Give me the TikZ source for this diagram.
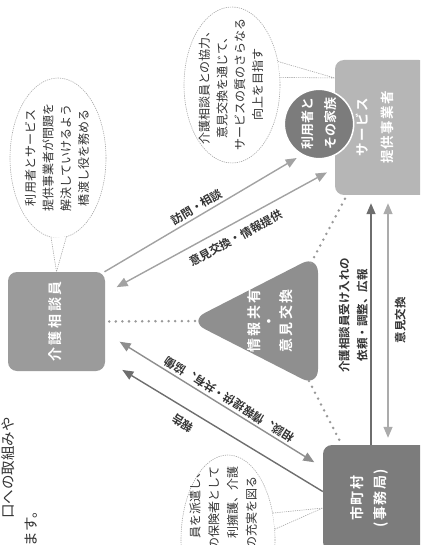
\documentclass[tikz,border=0pt]{standalone}
\usepackage{fontspec}
\setmainfont{Noto Sans CJK JP}[BoldFont={Noto Sans CJK JP Bold}]
\usepackage{graphicx}
\usetikzlibrary{arrows.meta,shapes.geometric}
\definecolor{boxgray}{HTML}{9B9B9B}
\definecolor{trigray}{HTML}{8F8F8F}
\definecolor{lightbox}{HTML}{B6B6B6}
\definecolor{darkbox}{HTML}{7C7C7C}
\definecolor{linegray}{HTML}{A2A2A2}
\definecolor{midline}{HTML}{8E8E8E}
\definecolor{darkline}{HTML}{6E6E6E}
\definecolor{lightline}{HTML}{ABABAB}
\definecolor{dotgray}{HTML}{999999}
\definecolor{bubgray}{HTML}{A8A8A8}
\definecolor{txtgray}{HTML}{333333}
\newcommand{\vtxt}[1]{\rotatebox{90}{\begin{tabular}{@{}c@{}}#1\end{tabular}}}

\begin{document}
\begin{tikzpicture}[x=1pt,y=-1pt,
    >={Triangle[length=11pt,width=9pt]},
    main node/.style={rounded corners=9pt, inner sep=0pt},
    box text/.style={inner sep=0pt, text=white},
    bubble/.style={ellipse, draw=bubgray, fill=white, line width=.6pt,
      dash pattern=on 1.2pt off 1pt, inner sep=0pt},
    bubble text/.style={inner sep=0pt, text=txtgray, font=\fontsize{12}{17.7}\selectfont},
    tail/.style={draw=bubgray, line width=.6pt, dash pattern=on 1.2pt off 1pt},
    link/.style={line width=1.4pt},
    link label/.style={sloped, allow upside down, inner sep=2.5pt, text=txtgray,
      font=\bfseries\fontsize{11.5}{18}\selectfont},
    dots/.style={draw=dotgray, line width=2.8pt, line cap=round, dash pattern=on 0pt off 6.6pt}]
  \useasboundingbox (0,0) rectangle (420,545);
  \clip (0,0) rectangle (420,545);

  % speech bubbles
  \node[bubble, minimum width=96pt, minimum height=160pt,
    label={[bubble text]center:\vtxt{利用者とサービス\\提供事業者が問題を\\解決していけるよう\\橋渡し役を務める}}] (tipL) at (58,158) {};
  \node[bubble, minimum width=96pt, minimum height=156pt,
    label={[bubble text]center:\vtxt{介護相談員との協力、\\意見交換を通じて、\\サービスの質のさらなる\\向上を目指す}}] (tipR) at (232,85) {};
  \node[bubble, minimum width=94pt, minimum height=170pt] (tipB) at (228,540) {};
  \node[bubble text, anchor=north, font=\fontsize{12}{18.7}\selectfont] (tipBtxt) at (224,466)
    {\rotatebox{90}{\begin{tabular}{@{}r@{}}員を派遣し、\\の保険者として\\利擁護、介護\\の充実を図る\rule{10pt}{0pt}\end{tabular}}};

  % text cut at the page edge
  \node[anchor=north, inner sep=0pt, text=txtgray, font=\fontsize{14.5}{20}\selectfont] (intro1) at (8,417) {\rotatebox{90}{口への取組みや}};
  \node[anchor=north, inner sep=0pt, text=txtgray, font=\fontsize{14.5}{20}\selectfont] (intro2) at (31,504) {\rotatebox{90}{ます。}};

  % boxes
  \node[main node, fill=boxgray, minimum width=97pt, minimum height=99pt, text=white,
    font=\bfseries\fontsize{14}{22}\selectfont\addfontfeatures{LetterSpace=18}] (kaigo) at (56.5,321.5) {\vtxt{介護相談員}};
  \node[main node, fill=lightbox, minimum width=93pt, minimum height=135pt,
    label={[box text, xshift=-7pt, font=\bfseries\fontsize{13.5}{25}\selectfont\addfontfeatures{LetterSpace=10}]center:\vtxt{サービス\\提供事業者}}] (jigyo) at (381.5,127.5) {};
  \node[circle, fill=darkbox, draw=white, line width=1.5pt, minimum size=68pt, inner sep=0pt, text=white,
    font=\bfseries\fontsize{13}{23}\selectfont] (riyou) at (319,124) {\vtxt{利用者と\\その家族}};
  \node[main node, fill=darkbox, minimum width=105pt, minimum height=106pt,
    label={[box text, xshift=-6pt, font=\bfseries\fontsize{14}{23}\selectfont\addfontfeatures{LetterSpace=10}]center:\vtxt{市町村\\(事務局)}}] (shichoson) at (375.5,498) {};

  % triangle
  \coordinate (apex) at (189,321);
  \coordinate (tritop) at (311,263);
  \coordinate (tribot) at (309,381);
  \fill[trigray, rounded corners=18pt] (apex) -- (318,255) -- (318,387) -- cycle;
  \node[box text, font=\bfseries\fontsize{14}{15}\selectfont\addfontfeatures{LetterSpace=18}] (kyoyu) at (272,321) {\vtxt{情報共有\\・\\意見交換}};

  % bubble tails
  \fill[white] (tipL.265) -- (kaigo.north) -- (tipL.276) -- cycle;
  \draw[tail] (tipL.265) -- (kaigo.north) -- (tipL.276);
  \fill[white] (tipR.27) -- ([yshift=49.5pt]jigyo.west) -- (tipR.9) -- cycle;
  \draw[tail] (tipR.27) -- ([yshift=49.5pt]jigyo.west) -- (tipR.9);
  \fill[white] (tipB.31) -- ([yshift=-10pt]shichoson.west) -- (tipB.13) -- cycle;
  \draw[tail] (tipB.31) -- ([yshift=-10pt]shichoson.west) -- (tipB.13);

  % dotted links
  \draw[dots, shorten <=4pt] (kaigo.east) -- ([xshift=11pt]apex);
  \draw[dots] (tritop) -- ([xshift=12pt]jigyo.south west);
  \draw[dots] (tribot) -- ([xshift=19pt]shichoson.north west);

  % arrows
  \draw[link, draw=linegray, ->, shorten >=6pt] (kaigo.46)
    -- node[link label, above, pos=.49] {訪問・相談} (riyou.241);
  \draw[link, draw=linegray, <->, shorten <=13pt, shorten >=9pt] (kaigo.30)
    -- node[link label, below, inner sep=8pt, pos=.54] {意見交換・情報提供} (jigyo.221);
  \draw[link, draw=midline, <->, shorten <=10pt, shorten >=17pt] (shichoson.150)
    -- node[link label, below, pos=.45] {相談、情報提供・共有、協働} (kaigo.-13);
  \draw[link, draw=darkline, ->, shorten >=20pt] (shichoson.173)
    -- node[link label, above, inner sep=8pt, pos=.61] {報告} (kaigo.-38);
  \draw[link, draw=darkline, ->, shorten >=8pt] ([xshift=-4.5pt]shichoson.north)
    -- node[link label, above, pos=.52, align=center] {介護相談員受け入れの\\依頼・調整、広報} ([xshift=-10.5pt]jigyo.south);
  \draw[link, draw=lightline, <->, shorten <=7pt, shorten >=8pt] ([xshift=12.5pt]shichoson.north)
    -- node[link label, below, inner sep=6pt, pos=.5] {意見交換} ([xshift=6.5pt]jigyo.south);
\end{tikzpicture}
\end{document}
